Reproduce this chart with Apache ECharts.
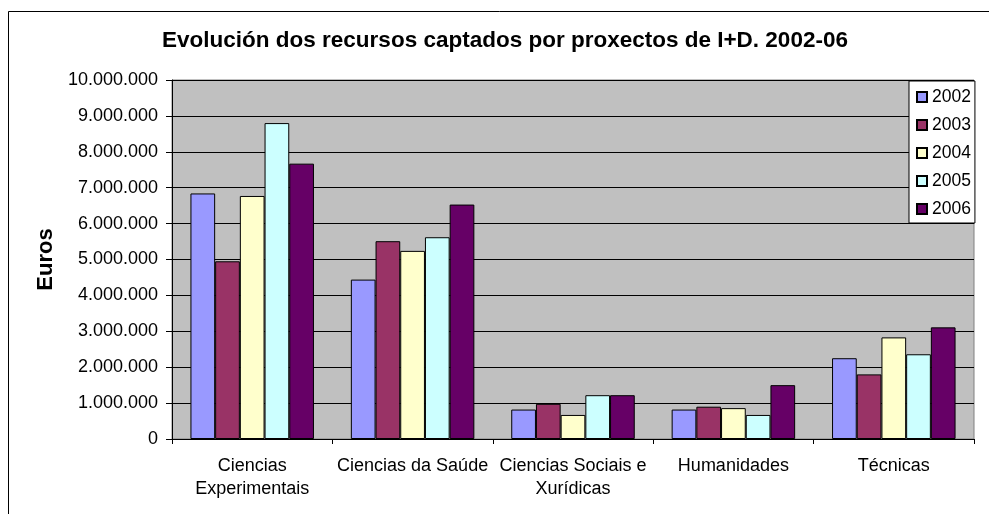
<!DOCTYPE html>
<html>
<head>
<meta charset="utf-8">
<script src="https://cdn.jsdelivr.net/npm/echarts@6/dist/echarts.min.js"></script>
<style>
html,body{margin:0;padding:0;background:#fff;}
#chart{width:989px;height:514px;}
</style>
</head>
<body>
<div id="chart"></div>
<script>
const categories = ['Ciencias\nExperimentais', 'Ciencias da Saúde', 'Ciencias Sociais e\nXurídicas', 'Humanidades', 'Técnicas'];
const years = ['2002', '2003', '2004', '2005', '2006'];
const v2002 = [6840000, 4440000, 820000, 820000, 2250000];
const v2003 = [4950000, 5510000, 980000, 900000, 1800000];
const v2004 = [6770000, 5240000, 670000, 860000, 2830000];
const v2005 = [8800000, 5620000, 1220000, 670000, 2360000];
const v2006 = [7670000, 6530000, 1220000, 1500000, 3110000];
const colors = ['#9999FF', '#993366', '#FFFFCC', '#CCFFFF', '#660066'];
const seriesValues = [v2002, v2003, v2004, v2005, v2006];

const FONT = '"Liberation Sans", Arial, sans-serif';
const fmt = v => String(v).replace(/\B(?=(\d{3})+(?!\d))/g, '.');

const chart = echarts.init(document.getElementById('chart'), null, {renderer: 'canvas'});
chart.setOption({
  animation: false,
  backgroundColor: '#ffffff',
  textStyle: {fontFamily: FONT},
  title: {
    text: 'Evolución dos recursos captados por proxectos de I+D. 2002-06',
    left: 505, top: 29, padding: 0, textAlign: 'center',
    textStyle: {fontFamily: FONT, fontWeight: 'bold', fontSize: 22.5, color: '#000'}
  },
  graphic: [{
    type: 'rect', silent: true, z: -1,
    shape: {x: 8.5, y: 11.5, width: 1000, height: 600},
    style: {fill: 'none', stroke: '#000', lineWidth: 1}
  }],
  legend: {
    orient: 'vertical',
    left: 909, top: 81,
    padding: [7, 4, 5, 7],
    itemWidth: 10, itemHeight: 10, itemGap: 10,
    backgroundColor: '#fff', borderColor: '#000', borderWidth: 1,
    icon: 'rect',
    textStyle: {fontFamily: FONT, fontSize: 17.5, color: '#000', lineHeight: 18, padding: [0,0,0,0]},
    data: years
  },
  grid: {
    left: 172, top: 80, right: 15, bottom: 75,
    show: true, backgroundColor: '#C0C0C0', borderColor: '#808080', borderWidth: 1
  },
  xAxis: {
    type: 'category',
    data: categories,
    axisLine: {show: true, lineStyle: {color: '#000', width: 1}},
    axisTick: {show: true, length: 5, lineStyle: {color: '#000'}},
    axisLabel: {fontFamily: FONT, fontSize: 18, color: '#000', lineHeight: 23, margin: 16, interval: 0}
  },
  yAxis: {
    type: 'value', min: 0, max: 10000000, interval: 1000000,
    name: 'Euros', nameLocation: 'middle', nameGap: 115, nameRotate: 90,
    nameTextStyle: {fontFamily: FONT, fontWeight: 'bold', fontSize: 22, color: '#000'},
    axisLine: {show: true, lineStyle: {color: '#000', width: 1}},
    axisTick: {show: true, length: 6, lineStyle: {color: '#000'}},
    axisLabel: {fontFamily: FONT, fontSize: 18, color: '#000', margin: 14, formatter: fmt},
    splitLine: {show: true, lineStyle: {color: '#000', width: 1}}
  },
  series: years.map((y, i) => ({
    name: y, type: 'bar',
    data: seriesValues[i],
    barGap: '0%', barCategoryGap: '23%',
    itemStyle: {color: colors[i], borderColor: '#000', borderWidth: 1}
  }))
});
</script>
</body>
</html>
